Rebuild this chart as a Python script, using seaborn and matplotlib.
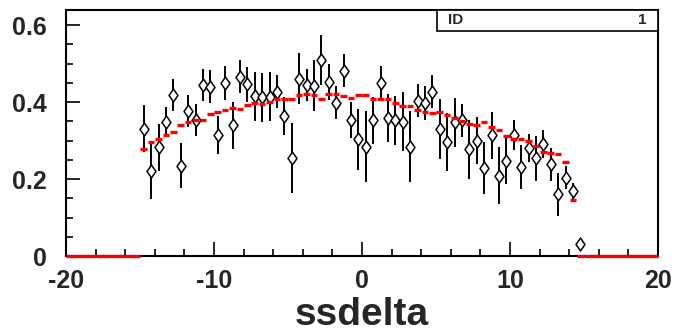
"""
ssdelta profile: data points (open diamonds with error bars) vs. red reference histogram.
Run: python plot.py  -> out.png
"""

import numpy as np
import pandas as pd
import matplotlib
matplotlib.use("Agg")
import matplotlib.pyplot as plt
from matplotlib.patches import Rectangle
from matplotlib.path import Path
from matplotlib.ticker import MultipleLocator
import seaborn as sns

OUT = "out.png"

# 0.5-wide bins covering -15 .. 15 (60 bins)
BIN_WIDTH = 0.5
X_LO, X_HI = -20, 20
DATA_LO = -15

data_vals = [0.330, 0.222, 0.282, 0.347, 0.418, 0.235, 0.377, 0.353, 0.444, 0.440,
             0.314, 0.449, 0.339, 0.466, 0.446, 0.415, 0.412, 0.414, 0.427, 0.364,
             0.254, 0.461, 0.444, 0.442, 0.509, 0.451, 0.398, 0.481, 0.353, 0.303,
             0.284, 0.353, 0.449, 0.358, 0.352, 0.349, 0.284, 0.403, 0.398, 0.427,
             0.330, 0.297, 0.347, 0.352, 0.277, 0.299, 0.229, 0.314, 0.208, 0.248,
             0.314, 0.232, 0.281, 0.254, 0.290, 0.238, 0.160, 0.203, 0.169, 0.030]

data_errs = [0.061, 0.074, 0.060, 0.039, 0.042, 0.058, 0.041, 0.042, 0.042, 0.043,
             0.050, 0.045, 0.062, 0.043, 0.045, 0.064, 0.063, 0.063, 0.042, 0.049,
             0.091, 0.066, 0.042, 0.066, 0.066, 0.047, 0.043, 0.043, 0.046, 0.080,
             0.092, 0.061, 0.044, 0.063, 0.063, 0.077, 0.092, 0.043, 0.044, 0.042,
             0.078, 0.075, 0.063, 0.043, 0.077, 0.061, 0.068, 0.061, 0.074, 0.062,
             0.038, 0.057, 0.036, 0.058, 0.036, 0.042, 0.055, 0.030, 0.021, 0.000]

ref_vals = [0.278, 0.297, 0.304, 0.314, 0.323, 0.339, 0.349, 0.353, 0.353, 0.368,
            0.375, 0.379, 0.384, 0.381, 0.392, 0.397, 0.394, 0.401, 0.407, 0.407,
            0.408, 0.418, 0.422, 0.418, 0.407, 0.420, 0.420, 0.416, 0.411, 0.418,
            0.418, 0.407, 0.409, 0.409, 0.397, 0.390, 0.390, 0.379, 0.375, 0.371,
            0.375, 0.366, 0.359, 0.351, 0.343, 0.340, 0.349, 0.334, 0.327, 0.312,
            0.303, 0.303, 0.300, 0.287, 0.271, 0.268, 0.264, 0.245, 0.145, 0.000]

x_ticks = [-20, -10, 0, 10, 20]
y_ticks = [0, 0.2, 0.4, 0.6]
x_label = "ssdelta"
stat_name, stat_value = "ID", "1"

# ROOT-like open diamond (wider than matplotlib's "d")
DIAMOND = Path([(0, 1), (0.7, 0), (0, -1), (-0.7, 0), (0, 1)],
               [Path.MOVETO, Path.LINETO, Path.LINETO, Path.LINETO, Path.CLOSEPOLY])


def main():
    sns.set_style("ticks")
    plt.rcParams["font.family"] = ["Liberation Sans", "DejaVu Sans"]
    plt.rcParams["font.weight"] = "bold"
    plt.rcParams["axes.unicode_minus"] = False

    centers = DATA_LO + BIN_WIDTH * (np.arange(len(data_vals)) + 0.5)
    df = pd.DataFrame({"x": centers, "y": data_vals, "err": data_errs})

    # reference histogram over the full axis range, empty outside -15..15
    all_centers = X_LO + BIN_WIDTH * (np.arange(int((X_HI - X_LO) / BIN_WIDTH)) + 0.5)
    ref_full = pd.Series(0.0, index=np.round(all_centers, 3))
    ref_full.loc[np.round(centers, 3)] = ref_vals

    fig = plt.figure(figsize=(6.78, 3.33), dpi=100)
    ax = fig.add_axes([66 / 678, 77 / 333, 592 / 678, 246 / 333])

    # red reference: short horizontal dash per bin, continuous where empty
    half = np.where(ref_full.values > 0, 0.22, 0.25)
    ax.hlines(ref_full.values, ref_full.index - half, ref_full.index + half,
              colors="#ff0000", linewidth=2.4, zorder=4, clip_on=False)

    # data: error bars + open diamonds
    ax.vlines(df["x"], df["y"] - df["err"], df["y"] + df["err"],
              colors="black", linewidth=1.4, zorder=2)
    sns.scatterplot(data=df, x="x", y="y", marker=DIAMOND, s=85,
                    facecolor="white", edgecolor="black", linewidth=1.1,
                    zorder=3, ax=ax, legend=False)

    ax.set_xlim(X_LO, X_HI)
    ax.set_ylim(0, 0.639)
    ax.set_xticks(x_ticks)
    ax.set_yticks(y_ticks)
    ax.set_yticklabels(["0", "0.2", "0.4", "0.6"])
    ax.xaxis.set_minor_locator(MultipleLocator(2))
    ax.yaxis.set_minor_locator(MultipleLocator(0.05))
    ax.tick_params(which="both", direction="in", bottom=True, left=True,
                   top=False, right=False, color="black", width=1.2,
                   labelsize=18)
    ax.tick_params(which="major", length=10)
    ax.tick_params(which="minor", length=5)
    ax.tick_params(axis="x", which="major", pad=9)
    ax.tick_params(axis="y", which="major", pad=14)

    for sp in ax.spines.values():
        sp.set_visible(True)
        sp.set_color("black")
        sp.set_linewidth(1.5)

    ax.set_xlabel(x_label, fontsize=28, fontweight="bold", labelpad=3)
    ax.set_ylabel("")

    # stats box in the top-right corner
    box_x0, box_y0 = (437 - 66) / 592, (256 - 31) / 246
    ax.add_patch(Rectangle((box_x0, box_y0), 1 - box_x0, 1 - box_y0,
                           transform=ax.transAxes, facecolor="white",
                           edgecolor="black", linewidth=1.2, zorder=6,
                           clip_on=False))
    ax.text(0.645, (box_y0 + 1) / 2, stat_name, transform=ax.transAxes,
            fontsize=11, fontweight="bold", va="center", ha="left", zorder=7)
    ax.text(0.98, (box_y0 + 1) / 2, stat_value, transform=ax.transAxes,
            fontsize=11, fontweight="bold", va="center", ha="right", zorder=7)

    fig.savefig(OUT, dpi=100)
    plt.close(fig)


if __name__ == "__main__":
    main()
